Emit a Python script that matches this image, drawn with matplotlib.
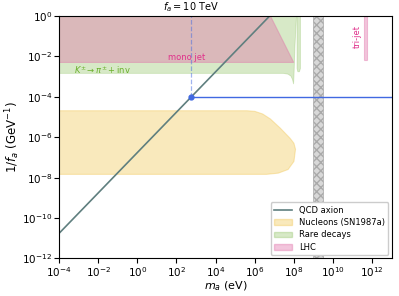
import numpy as np
import matplotlib
matplotlib.use("Agg")
import matplotlib.pyplot as plt
from matplotlib.patches import Patch
from matplotlib.lines import Line2D

# QCD axion line: 1/fa vs m_a (log10 values)
qcd_logm = [-4.0, 6.76]
qcd_logg = [-10.76, 0.0]

# benchmark fa = 10 TeV
bench_m = 570.0
bench_g = 1e-4

# nucleons (SN1987a) boundary, log10(m), log10(1/fa)
nucleon_logm = [-4, 5.6, 6.0, 6.4, 6.8, 7.3, 7.8, 8.0, 8.08, 8.0, 7.7, 7.2, 6.6, -4]
nucleon_logg = [-4.69, -4.69, -4.72, -4.85, -5.1, -5.55, -6.05, -6.3, -6.6, -7.2, -7.6, -7.78, -7.84, -7.84]

# rare decays (K -> pi + inv)
rare_logm = [-4, 8.13, 8.05, 8.0, 7.98, 7.93, 7.85, 7.7, 7.46, -4]
rare_logg = [0, 0, -1.5, -3.0, -3.37, -3.15, -2.98, -2.88, -2.84, -2.84]
rare2_logm = [8.16, 8.33, 8.33, 8.28, 8.2, 8.16]
rare2_logg = [0, 0, -2.6, -2.76, -2.76, -2.6]

# LHC mono jet and tri-jet
monojet_logm = [-4, 6.8, 7.99, -4]
monojet_logg = [0, 0, -2.3, -2.3]
trijet_logm = [11.6, 11.75, 11.75, 11.6]
trijet_logg = [0, 0, -2.2, -2.2]

# grey band
band_logm = [8.97, 9.48]


def pw(v):
    return 10.0 ** np.array(v)


fig = plt.figure(figsize=(3.99, 2.96), dpi=100)
ax = fig.add_axes([0.148, 0.127, 0.834, 0.819])

c_nuc = "#f0c040"
c_rare = "#8dc060"
c_lhc = "#e070a8"

ax.fill(pw(nucleon_logm), pw(nucleon_logg), facecolor=c_nuc, alpha=0.35,
        edgecolor=c_nuc, lw=0.8)
ax.fill(pw(rare_logm), pw(rare_logg), facecolor=c_rare, alpha=0.35,
        edgecolor=c_rare, lw=0.6)
ax.fill(pw(rare2_logm), pw(rare2_logg), facecolor=c_rare, alpha=0.35,
        edgecolor=c_rare, lw=0.6)
ax.fill(pw(monojet_logm), pw(monojet_logg), facecolor=c_lhc, alpha=0.4,
        edgecolor=c_lhc, lw=0.8)
ax.fill(pw(trijet_logm), pw(trijet_logg), facecolor=c_lhc, alpha=0.4,
        edgecolor=c_lhc, lw=0.8)

ax.axvspan(*pw(band_logm), facecolor="#d8d8d8", edgecolor="#aaaaaa",
           hatch="xxxx", lw=0.5)

ax.plot(pw(qcd_logm), pw(qcd_logg), color="#5f7f7f", lw=1.2)

ax.plot([bench_m, bench_m], [bench_g, 1], color="royalblue", ls="--",
        lw=0.9, alpha=0.5)
ax.plot([bench_m, 1e13], [bench_g, bench_g], color="royalblue", lw=1.0)
ax.plot(bench_m, bench_g, "o", color="royalblue", ms=3.5)

ax.text(bench_m, 1.25, "$f_a = 10$ TeV", ha="center", va="bottom", fontsize=7)
ax.text(10 ** 2.5, 10 ** -2.05, "mono jet", color="#e0308a", fontsize=6,
        ha="center", va="center")
ax.text(10 ** -1.8, 10 ** -2.68, r"$K^{\pm}\to\pi^{\pm}+\mathrm{inv}$",
        color="#6ab02b", fontsize=6, ha="center", va="center")
ax.text(10 ** 11.25, 10 ** -1.0, "tri-jet", color="#e0308a", fontsize=6,
        rotation=90, ha="center", va="center")

ax.set_xscale("log")
ax.set_yscale("log")
ax.set_xlim(1e-4, 1e13)
ax.set_ylim(1e-12, 1e0)
ax.set_xticks(pw(np.arange(-4, 13, 2)))
ax.set_yticks(pw(np.arange(-12, 1, 2)))
ax.minorticks_off()
ax.tick_params(labelsize=7.5, pad=1.5)
ax.set_xlabel("$m_a$ (eV)", fontsize=8, labelpad=0)
ax.set_ylabel("$1/f_a$ (GeV$^{-1}$)", fontsize=8.5, labelpad=0)

handles = [
    Line2D([], [], color="#5f7f7f", lw=1.2),
    Patch(facecolor=c_nuc, alpha=0.35, edgecolor=c_nuc),
    Patch(facecolor=c_rare, alpha=0.35, edgecolor=c_rare),
    Patch(facecolor=c_lhc, alpha=0.4, edgecolor=c_lhc),
]
labels = ["QCD axion", "Nucleons (SN1987a)", "Rare decays", "LHC"]
ax.legend(handles, labels, loc="lower right", fontsize=6, labelspacing=0.4,
          handlelength=2.2, borderaxespad=0.4, framealpha=1)

fig.savefig("out.png", dpi=100)
